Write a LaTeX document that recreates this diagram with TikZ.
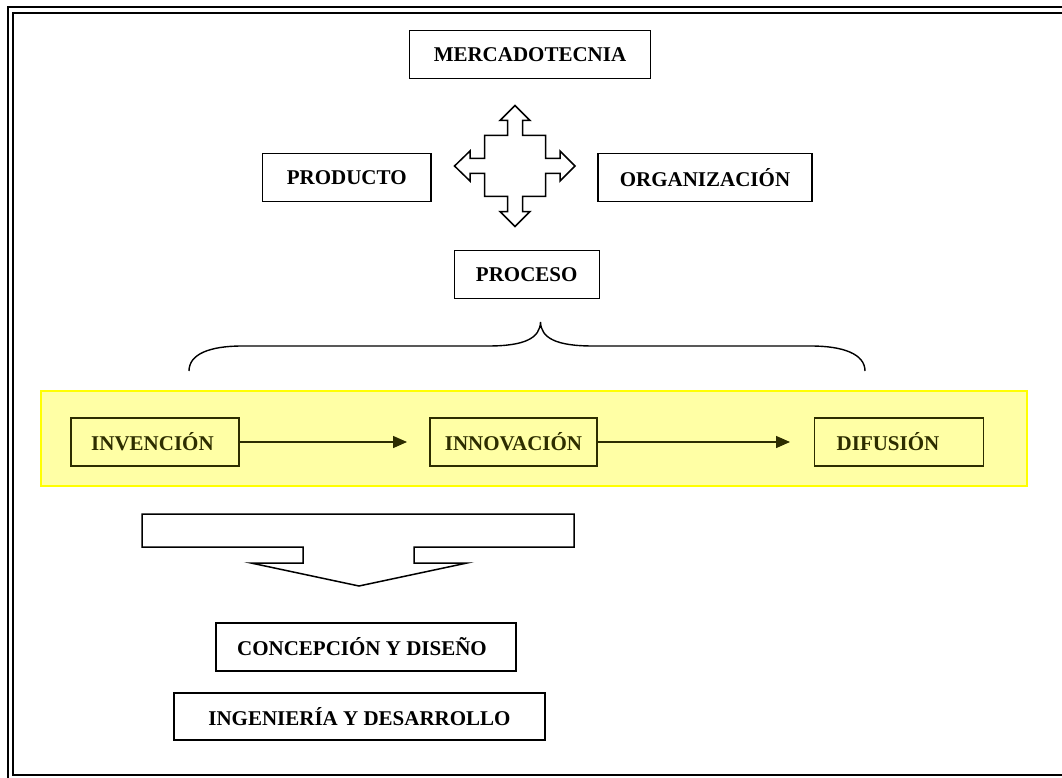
\documentclass[tikz,border=0pt]{standalone}
\usepackage{fontspec}
\setmainfont{Liberation Serif}
\usetikzlibrary{arrows.meta}
\definecolor{bandfill}{RGB}{255,255,165}
\definecolor{bandedge}{RGB}{255,255,0}
\definecolor{olive}{RGB}{45,45,0}
\begin{document}
\begin{tikzpicture}[x=1pt,y=-1pt,
  box/.style={draw, line width=1.3pt, inner sep=0pt,
    font=\bfseries\fontsize{21}{24}\selectfont},
  bandbox/.style={box, draw=olive, text=olive},
  frame/.style={line width=2pt},
  outline/.style={line width=1.5pt, line join=miter},
  flow/.style={draw=olive, line width=1.4pt, -{Triangle[length=14pt,width=12pt]}}]
\useasboundingbox (0,0) rectangle (1062,778);
\clip (0,0) rectangle (1062,778);
\fill[white] (0,0) rectangle (1062,778);
% frame
\draw[frame] (7.5,7) rectangle (1080,800);
\draw[frame] (13,13) rectangle (1075,775);
% top boxes
\node[box, minimum width=241, minimum height=48] (merc) at (530,54.5) {MERCADOTECNIA};
\node[box, minimum width=168.5, minimum height=48] (prod) at (346.7,177.8) {PRODUCTO};
\node[box, minimum width=214, minimum height=48] (org) at (705,177.8) {ORGANIZACIÓN};
\node[box, minimum width=145, minimum height=48] (proc) at (526.7,274.2) {PROCESO};
% four-way arrow
\begin{scope}[shift={(515,166)}]
\draw[outline] (-30.5,-30.5) -- (-7.5,-30.5) -- (-7.5,-45.5) -- (-15,-45.5) -- (0,-60.5)
  -- (15,-45.5) -- (7.5,-45.5) -- (7.5,-30.5) -- (30.5,-30.5) -- (30.5,-7.5)
  -- (45,-7.5) -- (45,-15) -- (60,0) -- (45,15) -- (45,7.5) -- (30.5,7.5)
  -- (30.5,30.5) -- (7.5,30.5) -- (7.5,45.5) -- (15,45.5) -- (0,60.5)
  -- (-15,45.5) -- (-7.5,45.5) -- (-7.5,30.5) -- (-30.5,30.5) -- (-30.5,7.5)
  -- (-45,7.5) -- (-45,15) -- (-60.5,0) -- (-45,-15) -- (-45,-7.5) -- (-30.5,-7.5) -- cycle;
\end{scope}
% brace
\draw[line width=1.4pt] (189,371) .. controls (189,354) and (210,346) .. (242,346)
  -- (488,346) .. controls (525,346) and (540,338) .. (540.5,322)
  .. controls (541,338) and (556,346) .. (593,346)
  -- (811,346) .. controls (843,346) and (865,354) .. (865,371);
% band
\draw[fill=bandfill, draw=bandedge, line width=2pt] (41,391) rectangle (1027,486);
\node[bandbox, minimum width=168, minimum height=48] (inv) at (155,442) {INVENCIÓN\hspace*{5pt}};
\node[bandbox, minimum width=167, minimum height=48] (innov) at (513.5,442) {INNOVACIÓN};
\node[bandbox, minimum width=169, minimum height=48] (dif) at (899,442) {DIFUSIÓN\hspace*{22pt}};
\coordinate (t1) at (407,442);
\coordinate (t2) at (790,442);
\draw[flow] (inv.east) -- (t1);
\draw[flow] (innov.east) -- (t2);
% block arrow
\draw[outline] (142,514) -- (574,514) -- (574,547) -- (414,547) -- (414,563) -- (467,563)
  -- (359,586) -- (251,563) -- (303,563) -- (303,547) -- (142,547) -- cycle;
% bottom boxes
\node[box, minimum width=300, minimum height=48] (conc) at (366,647) {CONCEPCIÓN Y DISEÑO\hspace*{8pt}};
\node[box, minimum width=371, minimum height=47] (ing) at (359.5,716.5) {INGENIERÍA Y DESARROLLO};
\end{tikzpicture}
\end{document}
